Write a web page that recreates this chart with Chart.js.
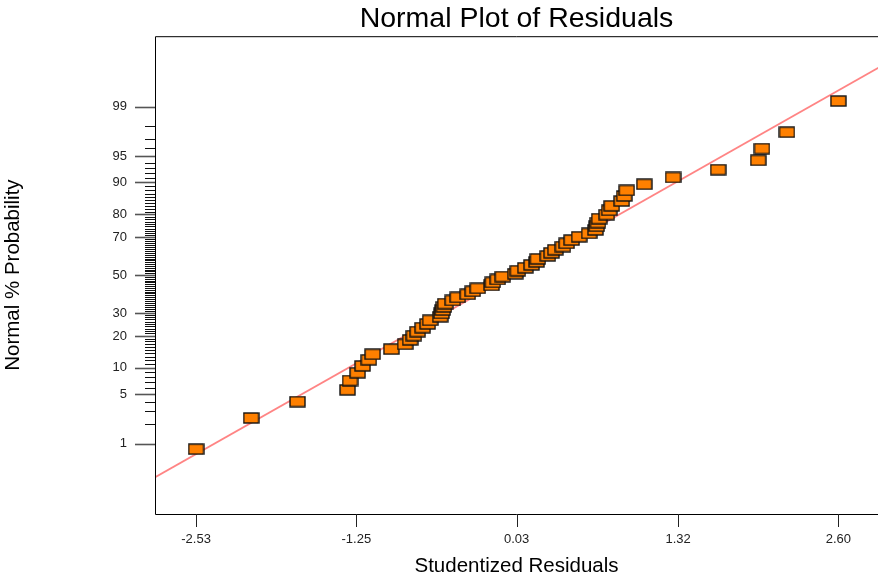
<!DOCTYPE html>
<html>
<head>
<meta charset="utf-8">
<script src="https://cdn.jsdelivr.net/npm/chart.js@4/dist/chart.umd.min.js"></script>
<style>
  body { margin: 0; background: #fff; }
  #wrap { width: 878px; height: 578px; overflow: hidden; }
</style>
</head>
<body>
<div id="wrap"><canvas id="chart1" width="878" height="578"></canvas></div>
<script>
Chart.defaults.font.family = "'Liberation Sans', Arial, sans-serif"
Chart.defaults.color = '#222'

// studentized residuals, sorted, and their normal % probability
const residuals = [-2.53, -2.09, -1.72, -1.32, -1.30, -1.24, -1.20, -1.15, -1.12, -0.97,
    -0.86, -0.82, -0.79, -0.76, -0.72, -0.68, -0.66, -0.58, -0.57, -0.56,
    -0.55, -0.54, -0.48, -0.44, -0.36, -0.32, -0.28, -0.17, -0.16, -0.12,
    -0.08, 0.02, 0.04, 0.10, 0.15, 0.19, 0.20, 0.28, 0.31, 0.34,
    0.40, 0.43, 0.47, 0.53, 0.61, 0.66, 0.67, 0.68, 0.69, 0.75,
    0.77, 0.79, 0.87, 0.89, 0.91, 1.05, 1.28, 1.64, 1.96, 1.99,
    2.19, 2.60]
const probabilities = [0.81, 2.42, 4.03, 5.65, 7.26, 8.87, 10.48, 12.10, 13.71, 15.32,
    16.94, 18.55, 20.16, 21.77, 23.39, 25.00, 26.61, 28.23, 29.84, 31.45,
    33.06, 34.68, 36.29, 37.90, 39.52, 41.13, 42.74, 44.35, 45.97, 47.58,
    49.19, 50.81, 52.42, 54.03, 55.65, 57.26, 58.87, 60.48, 62.10, 63.71,
    65.32, 66.94, 68.55, 70.16, 71.77, 73.39, 75.00, 76.61, 78.23, 79.84,
    81.45, 83.06, 84.68, 86.29, 87.90, 89.52, 91.13, 92.74, 94.35, 95.97,
    97.58, 99.19]

// reference line ends
const fitResiduals = [-2.86, 2.92]
const fitProbabilities = [0.26, 99.79]

const xTicks = [-2.53, -1.25, 0.03, 1.32, 2.60]
const yLabeled = [1, 5, 10, 20, 30, 50, 70, 80, 90, 95, 99]
const yMinor = []
for (let i = 1; i <= 99; i++) yMinor.push(i)


function probit(p) {
    const a = [-3.969683028665376e+01, 2.209460984245205e+02, -2.759285104469687e+02, 1.383577518672690e+02, -3.066479806614716e+01, 2.506628277459239e+00]
    const b = [-5.447609879822406e+01, 1.615858368580409e+02, -1.556989798598866e+02, 6.680131188771972e+01, -1.328068155288572e+01]
    const c = [-7.784894002430293e-03, -3.223964580411365e-01, -2.400758277161838e+00, -2.549732539343734e+00, 4.374664141464968e+00, 2.938163982698783e+00]
    const d = [7.784695709041462e-03, 3.224671290700398e-01, 2.445134137142996e+00, 3.754408661907416e+00]
    const plow = 0.02425
    let q, r
    if (p < plow) {
        q = Math.sqrt(-2 * Math.log(p))
        return (((((c[0] * q + c[1]) * q + c[2]) * q + c[3]) * q + c[4]) * q + c[5]) / ((((d[0] * q + d[1]) * q + d[2]) * q + d[3]) * q + 1)
    }
    if (p > 1 - plow) {
        q = Math.sqrt(-2 * Math.log(1 - p))
        return -(((((c[0] * q + c[1]) * q + c[2]) * q + c[3]) * q + c[4]) * q + c[5]) / ((((d[0] * q + d[1]) * q + d[2]) * q + d[3]) * q + 1)
    }
    q = p - 0.5
    r = q * q
    return (((((a[0] * r + a[1]) * r + a[2]) * r + a[3]) * r + a[4]) * r + a[5]) * q / (((((b[0] * r + b[1]) * r + b[2]) * r + b[3]) * r + b[4]) * r + 1)
}

function makeMarker() {
    const c = document.createElement('canvas')
    c.width = 17
    c.height = 12
    const ctx = c.getContext('2d')
    ctx.fillStyle = '#ff8000'
    ctx.fillRect(1, 1, 15, 10)
    ctx.strokeStyle = '#111'
    ctx.lineWidth = 1.4
    ctx.strokeRect(1, 1, 15, 10)
    return c
}

// frame and tick marks
const framePlugin = {
    id: 'frame',
    afterDraw(chart) {
        const { ctx, chartArea: a, scales } = chart
        ctx.save()
        ctx.strokeStyle = '#000'
        ctx.lineWidth = 1
        ctx.beginPath()
        ctx.moveTo(chart.width, a.top + 0.5)
        ctx.lineTo(a.left + 0.5, a.top + 0.5)
        ctx.lineTo(a.left + 0.5, a.bottom + 0.5)
        ctx.lineTo(chart.width, a.bottom + 0.5)
        ctx.stroke()

        yMinor.forEach(p => {
            const y = Math.round(scales.y.getPixelForValue(probit(p / 100))) + 0.5
            const major = yLabeled.includes(p)
            ctx.strokeStyle = major ? '#555' : '#111'
            ctx.lineWidth = major ? 1.6 : 1
            ctx.beginPath()
            ctx.moveTo(a.left - (major ? 20 : 10), y)
            ctx.lineTo(a.left, y)
            ctx.stroke()
        })
        ctx.strokeStyle = '#222'
        ctx.lineWidth = 1
        xTicks.forEach(v => {
            const x = Math.round(scales.x.getPixelForValue(v)) + 0.5
            ctx.beginPath()
            ctx.moveTo(x, a.bottom)
            ctx.lineTo(x, a.bottom + 13)
            ctx.stroke()
        })
        ctx.restore()
    }
}


function printNormalPlot() {

    const points = residuals.map((r, i) => ({ x: r, y: probit(probabilities[i] / 100) }))
    const fit = fitResiduals.map((r, i) => ({ x: r, y: probit(fitProbabilities[i] / 100) }))

    const data = {
        datasets: [{
            data: points,
            pointStyle: makeMarker(),
            pointRadius: 6,
            pointHoverRadius: 6
        }, {
            data: fit,
            showLine: true,
            borderColor: 'rgba(255, 110, 110, 0.85)',
            borderWidth: 1.8,
            pointRadius: 0
        }]
    }

    const options = {
        responsive: false,
        animation: false,
        layout: { padding: 0, autoPadding: false },
        plugins: {
            legend: { display: false },
            tooltip: { enabled: false },
            title: {
                display: true,
                text: 'Normal Plot of Residuals',
                fullSize: false,
                color: '#000',
                font: { size: 28.5, weight: 'normal' },
                padding: { top: 2, bottom: 0 }
            }
        },
        scales: {
            x: {
                type: 'linear',
                min: -2.858,
                max: 2.917,
                afterBuildTicks: s => { s.ticks = xTicks.map(v => ({ value: v })) },
                afterFit: s => { s.height = 64 },
                grid: { display: false, drawTicks: false },
                border: { display: false },
                ticks: {
                    padding: 18,
                    font: { size: 13 },
                    callback: v => v.toFixed(2)
                },
                title: {
                    display: true,
                    text: 'Studentized Residuals',
                    color: '#000',
                    font: { size: 20.5, lineHeight: 1 },
                    padding: { top: 0, bottom: 1 }
                }
            },
            y: {
                type: 'linear',
                min: -3.3,
                max: 3.3,
                afterBuildTicks: s => { s.ticks = yMinor.map(p => ({ value: probit(p / 100) })) },
                afterFit: s => { s.width = 155 },
                grid: { display: false, drawTicks: false },
                border: { display: false },
                ticks: {
                    autoSkip: false,
                    padding: 28,
                    font: { size: 13 },
                    callback: (v, i) => yLabeled.includes(yMinor[i]) ? String(yMinor[i]) : ''
                },
                title: {
                    display: true,
                    text: 'Normal % Probability',
                    color: '#000',
                    font: { size: 20.5, lineHeight: 1 },
                    padding: { top: 3, bottom: 0 }
                }
            }
        }
    }
    new Chart('chart1', { type: 'scatter', data, options, plugins: [framePlugin] })
}

printNormalPlot()
</script>
</body>
</html>
